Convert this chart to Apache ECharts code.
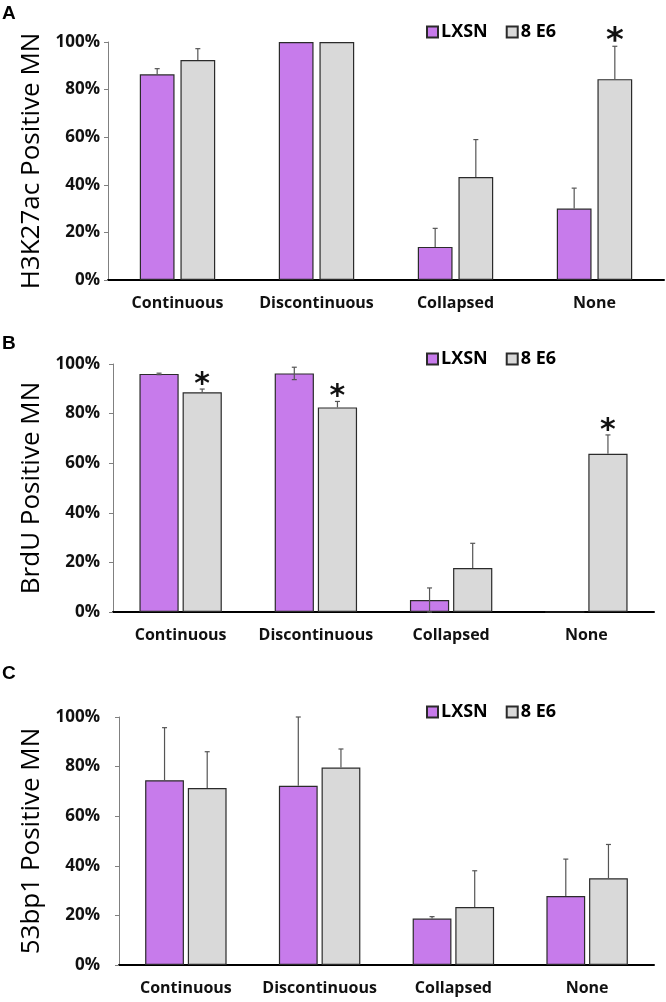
<!DOCTYPE html>
<html><head><meta charset="utf-8">
<script src="https://cdn.jsdelivr.net/npm/echarts@6/dist/echarts.min.js"></script>
<style>html,body{margin:0;padding:0;background:#fff}#c{width:666px;height:1002px}</style>
</head><body><div id="c"></div>
<script>
const categories = ['Continuous', 'Discontinuous', 'Collapsed', 'None'];
const seriesNames = ['LXSN', '8 E6'];
const yTicks = [0, 20, 40, 60, 80, 100];
const panelLetters = ['A', 'B', 'C'];
const yTitles = ['H3K27ac Positive MN', 'BrdU Positive MN', '53bp1 Positive MN'];

// Panel A
const aLxsn = [86.4, 100, 13.9, 30.0];
const aLxsnUp = [2.4, 0, 7.8, 8.6];
const aLxsnDown = [0, 0, 0, 0];
const aE6 = [92.4, 100, 43.3, 84.4];
const aE6Up = [4.8, 0, 15.7, 13.8];
const aE6Down = [0, 0, 0, 0];
const aLxsnSig = [0, 0, 0, 0];
const aE6Sig = [0, 0, 0, 1];

// Panel B
const bLxsn = [96.0, 96.2, 4.8, 0];
const bLxsnUp = [0.3, 2.5, 4.9, 0];
const bLxsnDown = [0.3, 2.5, 4.8, 0];
const bE6 = [88.6, 82.5, 17.7, 63.8];
const bE6Up = [1.3, 2.4, 10.0, 7.6];
const bE6Down = [0, 0, 0, 0];
const bLxsnSig = [0, 0, 0, 0];
const bE6Sig = [1, 1, 0, 1];

// Panel C
const cLxsn = [74.5, 72.3, 18.7, 27.8];
const cLxsnUp = [21.2, 27.7, 0.8, 14.9];
const cLxsnDown = [0, 0, 0, 0];
const cE6 = [71.4, 79.6, 23.4, 35.0];
const cE6Up = [14.6, 7.5, 14.6, 13.6];
const cE6Down = [0, 0, 0, 0];
const cLxsnSig = [0, 0, 0, 0];
const cE6Sig = [0, 0, 0, 0];

const PURPLE = '#C77BEB';
const GREY = '#D9D9D9';
const BORDER = '#2b2b2b';
const FONT = 'Open Sans';

const grids = [
  {left: 108, right: 2, top: 42, height: 238},
  {left: 113, right: 12, top: 364, height: 248},
  {left: 119, right: 12, top: 717, height: 248}
];
const barW = [0.25, 0.29, 0.29];
const barGapR = [0.17, 0.10, 0.10];
const yLabelMargin = [8, 13, 19];
const nameGaps = [62, 64, 70];
const legendTops = [23, 350, 703];
const letterTops = [4, 334, 664];
const starSize = [34, 30, 30];
const starDrop = [13, 11, 11];

const panels = [
  [aLxsn, aLxsnUp, aLxsnDown, aLxsnSig, aE6, aE6Up, aE6Down, aE6Sig],
  [bLxsn, bLxsnUp, bLxsnDown, bLxsnSig, bE6, bE6Up, bE6Down, bE6Sig],
  [cLxsn, cLxsnUp, cLxsnDown, cLxsnSig, cE6, cE6Up, cE6Down, cE6Sig]
];

function errSeries(g, vals, up, down, sig, side) {
  return {
    type: 'custom', xAxisIndex: g, yAxisIndex: g, z: 5, silent: true,
    data: vals.map((v, i) => [i, v, up[i], down[i], sig[i]]),
    renderItem: function (params, api) {
      const ci = api.value(0), v = api.value(1), u = api.value(2), d = api.value(3), s = api.value(4);
      const band = api.size([1, 0])[0];
      const bw = band * barW[g];
      const off = side * (bw / 2 + bw * barGapR[g] / 2);
      const x = api.coord([ci, v])[0] + off;
      const yTop = api.coord([ci, v + u])[1];
      const yBot = api.coord([ci, v - d])[1];
      const st = {stroke: '#555', lineWidth: 1.2};
      const ch = [];
      if (u > 0 || d > 0) {
        ch.push({type: 'line', shape: {x1: x, y1: yBot, x2: x, y2: yTop}, style: st});
      }
      if (u > 0) ch.push({type: 'line', shape: {x1: x - 2.5, y1: yTop, x2: x + 2.5, y2: yTop}, style: st});
      if (d > 0) ch.push({type: 'line', shape: {x1: x - 2.5, y1: yBot, x2: x + 2.5, y2: yBot}, style: st});
      if (s) {
        ch.push({type: 'text', style: {text: '*', x: x, y: yTop + starDrop[g], align: 'center', verticalAlign: 'bottom',
          font: 'bold ' + starSize[g] + 'px "DejaVu Sans"', fill: '#111'}});
      }
      return {type: 'group', children: ch};
    }
  };
}

const option = {
  animation: false,
  backgroundColor: '#fff',
  title: panelLetters.map((t, i) => ({text: t, left: 2, top: letterTops[i], padding: 0,
    textStyle: {fontFamily: 'Liberation Sans', fontWeight: 'bold', fontSize: 19, color: '#000'}})),
  legend: legendTops.map((t) => ({
    data: seriesNames, left: 426, top: t, padding: 0, itemGap: 18, itemWidth: 11, itemHeight: 11,
    icon: 'rect', selectedMode: false,
    textStyle: {fontFamily: FONT, fontWeight: 'bold', fontSize: 18, color: '#000', padding: [0, 0, 0, -2]}
  })),
  grid: grids,
  xAxis: grids.map((g, i) => ({
    type: 'category', gridIndex: i, data: categories,
    axisLine: {lineStyle: {color: '#000', width: 2}},
    axisTick: {alignWithLabel: true, length: 5, lineStyle: {color: '#000', width: 2}},
    axisLabel: {interval: 0, margin: 15, fontFamily: FONT, fontWeight: 'bold', fontSize: 16, color: '#111'}
  })),
  yAxis: grids.map((g, i) => ({
    type: 'value', gridIndex: i, min: 0, max: 100, interval: 20,
    name: yTitles[i], nameLocation: 'middle', nameRotate: 90, nameGap: nameGaps[i],
    nameTextStyle: {fontFamily: FONT, fontSize: 26, color: '#000'},
    splitLine: {show: false},
    axisLine: {show: true, lineStyle: {color: '#808080', width: 1}},
    axisTick: {show: true, length: 4, lineStyle: {color: '#808080'}},
    axisLabel: {margin: yLabelMargin[i], fontFamily: FONT, fontWeight: 'bold', fontSize: 17, color: '#111',
      formatter: (v) => v + '%'}
  })),
  series: []
};

panels.forEach((p, g) => {
  option.series.push({
    name: seriesNames[0], type: 'bar', xAxisIndex: g, yAxisIndex: g, data: p[0],
    barWidth: (barW[g] * 100) + '%', barGap: (barGapR[g] * 100) + '%',
    itemStyle: {color: PURPLE, borderColor: BORDER, borderWidth: 1.2}
  });
  option.series.push({
    name: seriesNames[1], type: 'bar', xAxisIndex: g, yAxisIndex: g, data: p[4],
    barWidth: (barW[g] * 100) + '%', barGap: (barGapR[g] * 100) + '%',
    itemStyle: {color: GREY, borderColor: BORDER, borderWidth: 1.2}
  });
  option.series.push(errSeries(g, p[0], p[1], p[2], p[3], -1));
  option.series.push(errSeries(g, p[4], p[5], p[6], p[7], 1));
});

const chart = echarts.init(document.getElementById('c'), null, {renderer: 'canvas'});
chart.setOption(option);
</script></body></html>
